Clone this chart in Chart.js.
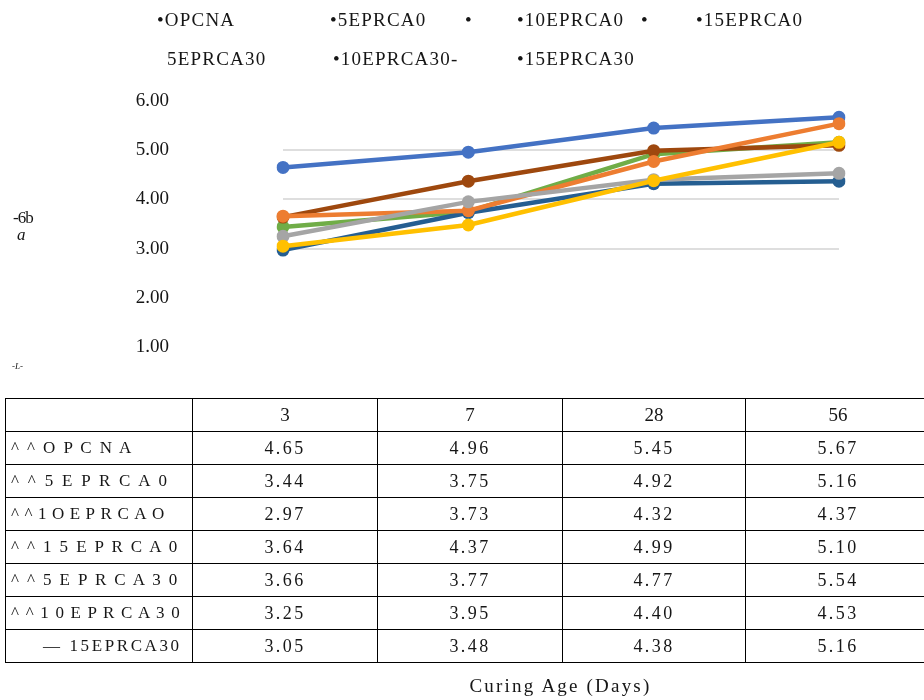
<!DOCTYPE html>
<html>
<head>
<meta charset="utf-8">
<script src="https://cdn.jsdelivr.net/npm/chart.js@4/dist/chart.umd.min.js"></script>
<style>
  html, body { margin: 0; padding: 0; background: #fff; }
  body { width: 924px; height: 700px; overflow: hidden; position: relative; font-family: "Liberation Serif", "DejaVu Serif", serif; color: #161616; }
  #c { position: absolute; left: 0; top: 0; }
  .leg { position: absolute; font-size: 19px; letter-spacing: 1.2px; white-space: pre; line-height: 1; }
  .ytitle { position: absolute; white-space: pre; line-height: 1; }
  #tbl { position: absolute; left: 5px; top: 398px; border-collapse: collapse; table-layout: fixed; width: 925px; }
  #tbl td { border: 1px solid #000; padding: 0; height: 32px; text-align: center; font-size: 18px; letter-spacing: 2.4px; white-space: pre; overflow: hidden; }
  #tbl tr.hdr td { font-size: 19px; letter-spacing: 0; }
  #tbl td.lab { text-align: left; padding-left: 5px; font-size: 17px; letter-spacing: 1.9px; }
  #tbl tr.r1 td.lab { letter-spacing: 2.3px; }
  #tbl tr.r2 td.lab { letter-spacing: 5.5px; }
  #tbl tr.r5 td.lab { letter-spacing: 1.2px; }
  #tbl tr.r6 td.lab { padding-left: 37px; letter-spacing: 2.6px; }
  #xtitle { position: absolute; left: 0; width: 1121px; top: 675px; text-align: center; font-size: 19px; letter-spacing: 2.2px; white-space: pre; }
</style>
</head>
<body>
<canvas id="c" width="924" height="700"></canvas>
<script>
// ---- data ----
const curingDays = ['3', '7', '28', '56'];
const seriesNames = ['OPCNA', '5EPRCA0', '10EPRCA0', '15EPRCA0', '5EPRCA30', '10EPRCA30', '15EPRCA30'];
const OPCNA     = [4.65, 4.96, 5.45, 5.67];
const EPRCA5_0  = [3.44, 3.75, 4.92, 5.16];
const EPRCA10_0 = [2.97, 3.73, 4.32, 4.37];
const EPRCA15_0 = [3.64, 4.37, 4.99, 5.10];
const EPRCA5_30 = [3.66, 3.77, 4.77, 5.54];
const EPRCA10_30 = [3.25, 3.95, 4.40, 4.53];
const EPRCA15_30 = [3.05, 3.48, 4.38, 5.16];
const seriesValues = [OPCNA, EPRCA5_0, EPRCA10_0, EPRCA15_0, EPRCA5_30, EPRCA10_30, EPRCA15_30];
const yTickValues = [1, 2, 3, 4, 5, 6];
const legendTexts = ['•OPCNA', '•5EPRCA0', '•', '•10EPRCA0', '•', '•15EPRCA0', '5EPRCA30', '•10EPRCA30-', '•15EPRCA30'];
const tableRowLabels = ['^ ^ O P C N A', '^ ^ 5 E P R C A 0', '^^1OEPRCAO', '^ ^ 1 5 E P R C A 0', '^ ^ 5 E P R C A 3 0', '^ ^ 1 0 E P R C A 3 0', '— 15EPRCA30'];
const xAxisTitle = 'Curing Age (Days)';
const yAxisTitleBits = ['-6b', 'a', '-L-'];

// ---- styles (kept separate from data) ----
const colors = ['#4472C4', '#70AD47', '#255E91', '#9E480E', '#ED7D31', '#A5A5A5', '#FFC000'];
const legendPos = [[157, 10], [330, 10], [465, 10], [517, 10], [641, 10], [696, 10], [167, 49], [333, 49], [517, 49]];

// legend (text only, as in reference)
legendTexts.forEach((t, i) => {
  const d = document.createElement('div');
  d.className = 'leg';
  d.textContent = t;
  d.style.left = legendPos[i][0] + 'px';
  d.style.top = legendPos[i][1] + 'px';
  document.body.appendChild(d);
});

// y axis title remnants
const ytStyles = [
  { left: '13px', top: '209px', fontSize: '17px', letterSpacing: '-1px' },
  { left: '17px', top: '226px', fontSize: '17px', fontStyle: 'italic' },
  { left: '12px', top: '362px', fontSize: '9px', fontStyle: 'italic' }
];
yAxisTitleBits.forEach((t, i) => {
  const d = document.createElement('div');
  d.className = 'ytitle';
  d.textContent = t;
  Object.assign(d.style, ytStyles[i]);
  document.body.appendChild(d);
});

// data table
const tbl = document.createElement('table');
tbl.id = 'tbl';
const colWidths = [187, 185, 185, 183, 185];
const cg = document.createElement('colgroup');
colWidths.forEach(w => { const c = document.createElement('col'); c.style.width = w + 'px'; cg.appendChild(c); });
tbl.appendChild(cg);
const tb = document.createElement('tbody');
tbl.appendChild(tb);
const hr = document.createElement('tr');
hr.className = 'hdr';
hr.appendChild(document.createElement('td'));
curingDays.forEach(d => { const td = document.createElement('td'); td.textContent = d; hr.appendChild(td); });
tb.appendChild(hr);
seriesValues.forEach((vals, i) => {
  const tr = document.createElement('tr');
  tr.className = 'r' + i;
  const l = document.createElement('td');
  l.className = 'lab';
  l.textContent = tableRowLabels[i];
  tr.appendChild(l);
  vals.forEach(v => { const td = document.createElement('td'); td.textContent = v.toFixed(2); tr.appendChild(td); });
  tb.appendChild(tr);
});
document.body.appendChild(tbl);

const xt = document.createElement('div');
xt.id = 'xtitle';
xt.textContent = xAxisTitle;
document.body.appendChild(xt);

// chart
const n = seriesNames.length;
new Chart(document.getElementById('c'), {
  type: 'line',
  data: {
    labels: curingDays,
    datasets: seriesNames.map((name, i) => ({
      label: name,
      data: seriesValues[i],
      borderColor: colors[i],
      backgroundColor: colors[i],
      pointBackgroundColor: colors[i],
      pointBorderColor: colors[i],
      borderWidth: 4.5,
      pointRadius: 6.5,
      pointBorderWidth: 0,
      tension: 0,
      order: n - i
    }))
  },
  options: {
    responsive: false,
    devicePixelRatio: 1,
    animation: false,
    layout: { padding: { top: 101, bottom: 353, left: 0, right: 85 } },
    plugins: { legend: { display: false }, tooltip: { enabled: false } },
    scales: {
      x: { display: false, offset: false },
      y: {
        min: 1, max: 6,
        afterFit: s => { s.width = 283; s.paddingTop = 10; s.paddingBottom = 10; },
        afterBuildTicks: s => { s.ticks = yTickValues.map(v => ({ value: v })); },
        border: { display: false },
        grid: {
          drawTicks: false,
          color: ctx => (ctx.tick && ctx.tick.value >= 3 && ctx.tick.value <= 5) ? '#DEDEDE' : 'rgba(0,0,0,0)',
          lineWidth: 2
        },
        ticks: {
          padding: 114,
          color: '#161616',
          font: { family: 'Liberation Serif', size: 19 },
          callback: v => Number(v).toFixed(2)
        }
      }
    }
  }
});
</script>
</body>
</html>
